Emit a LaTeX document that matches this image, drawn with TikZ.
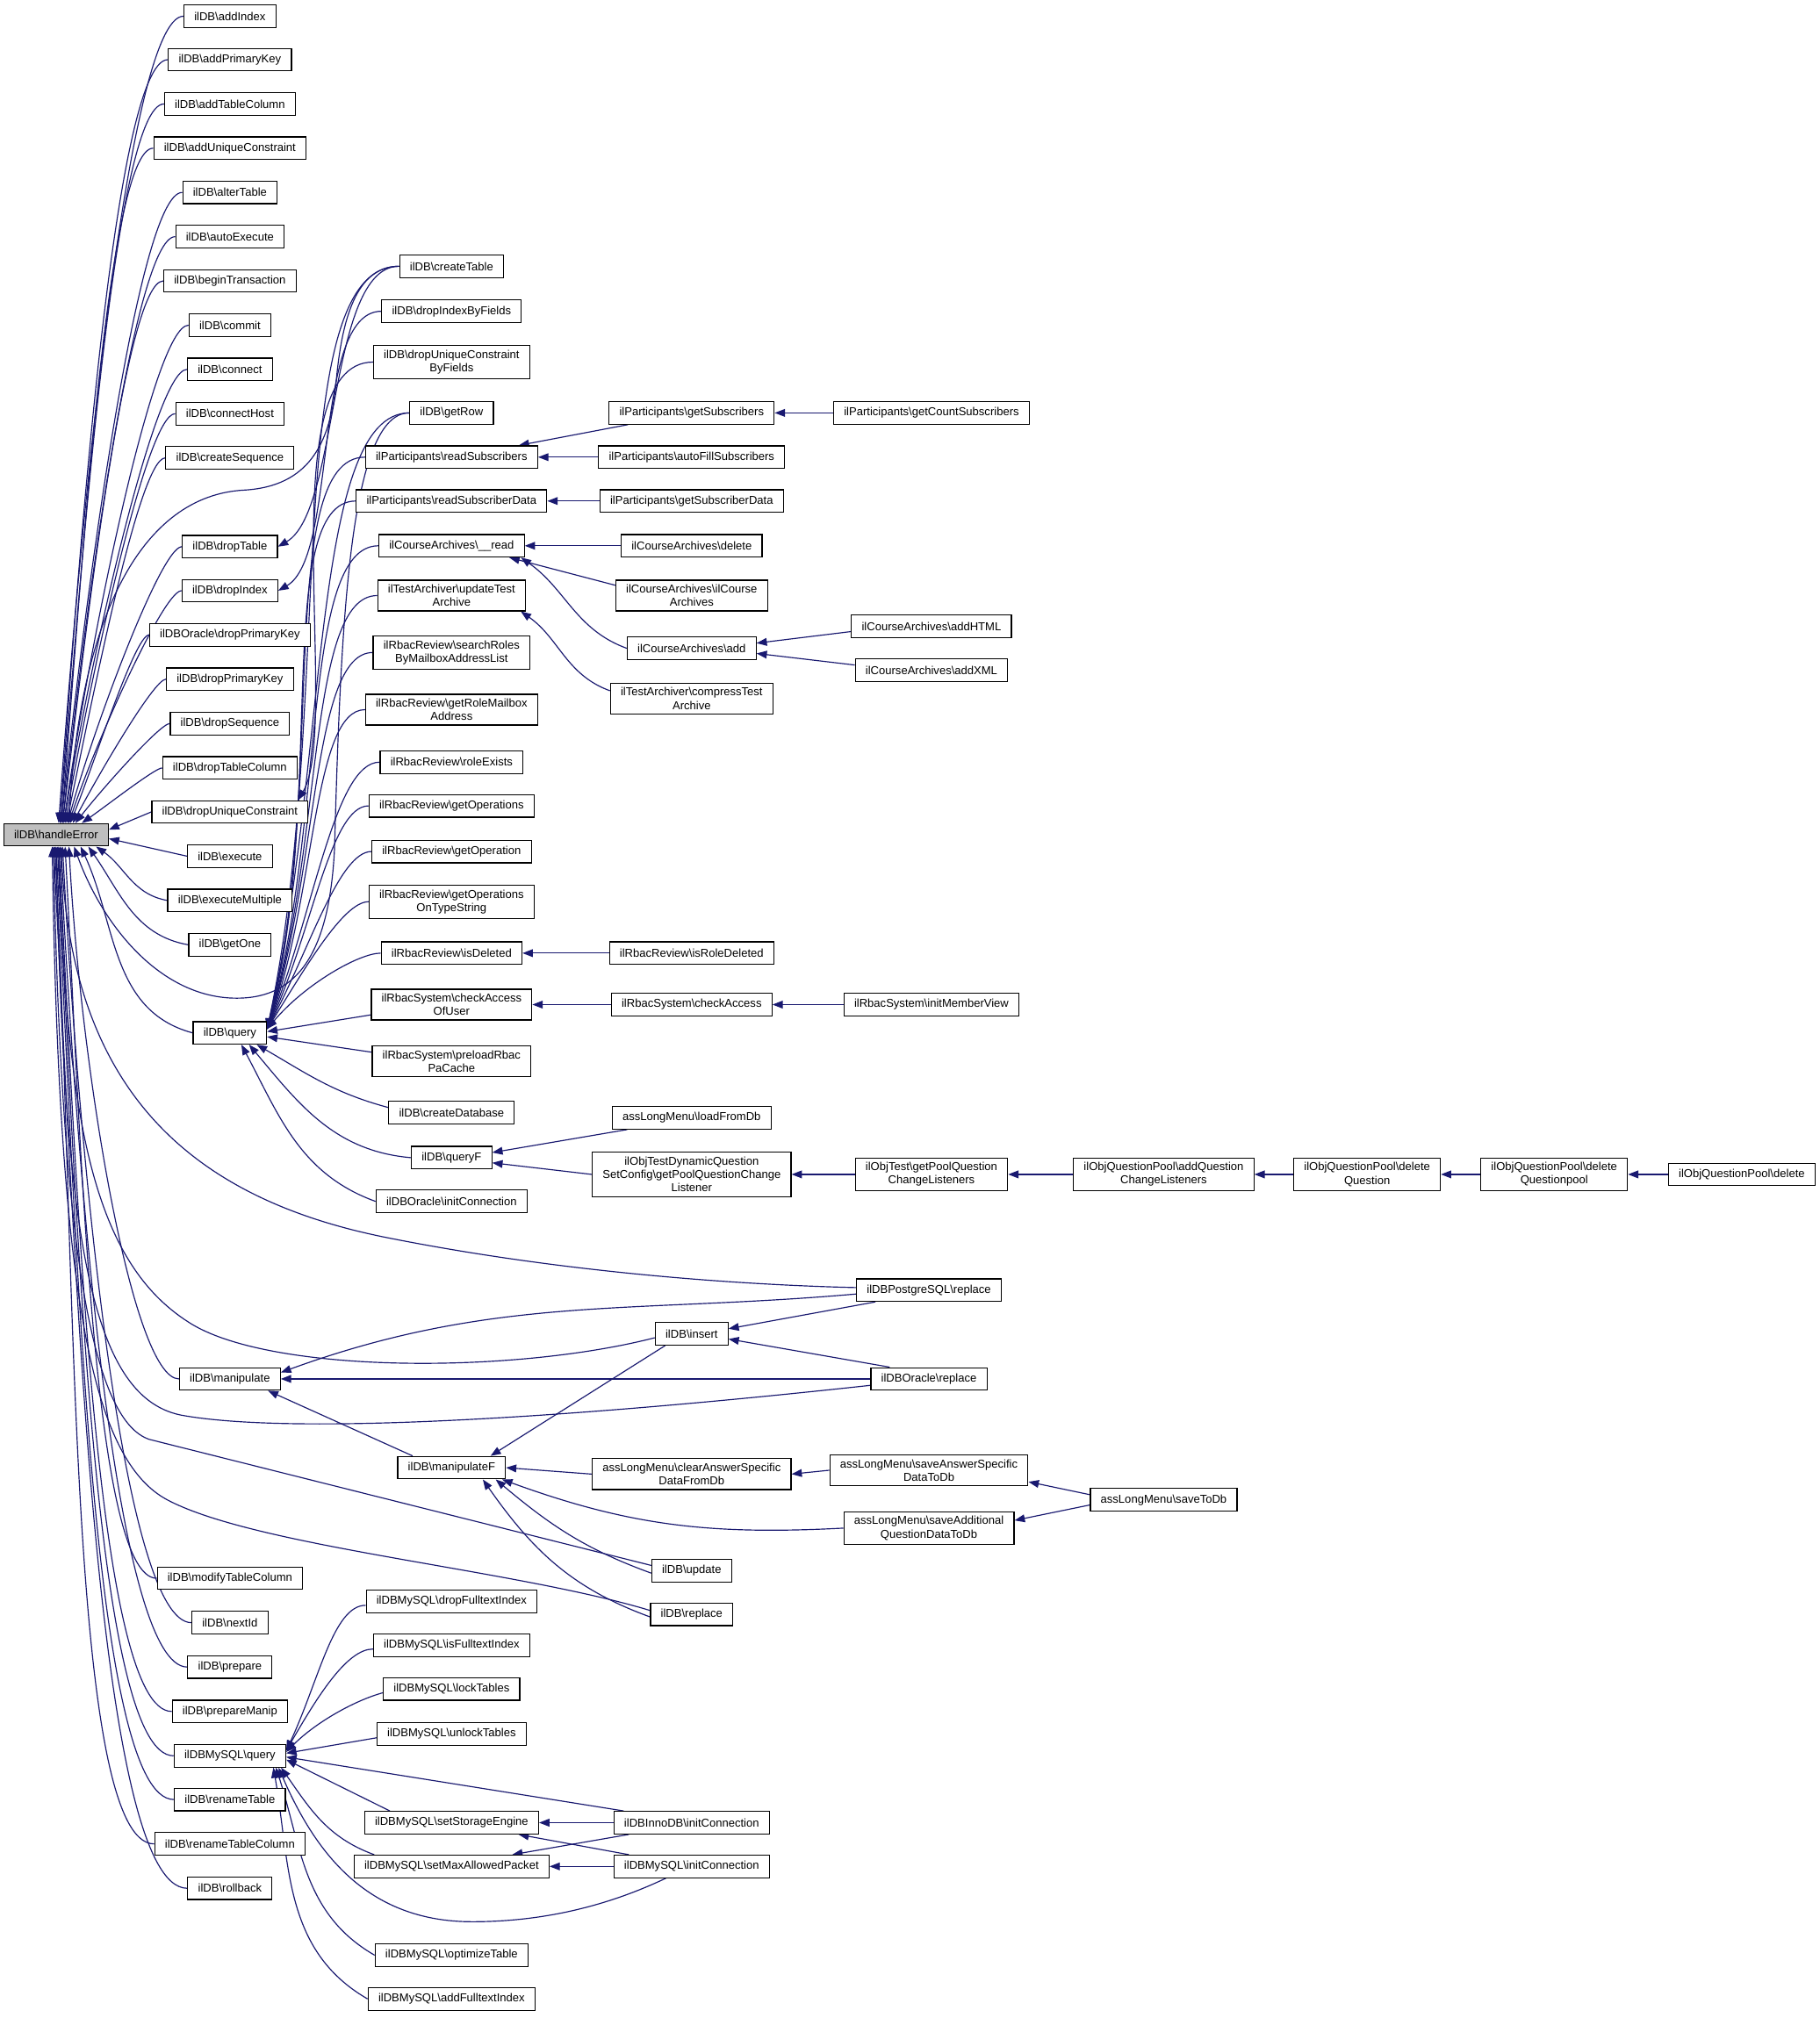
\documentclass[tikz,border=0pt]{standalone}
\usepackage{fontspec}
\setmainfont{Liberation Sans}
\usetikzlibrary{arrows.meta}
\definecolor{midnightblue}{RGB}{25,25,112}
\definecolor{nodegray}{RGB}{191,191,191}
\newcommand{\bsl}{\textbackslash}
\pgfdeclarelayer{bg}
\pgfsetlayers{bg,main}

\begin{document}
\begin{tikzpicture}[
    x=1pt, y=1pt,
    fn/.style={draw=black, line width=0.8pt, fill=white, inner xsep=8pt, inner ysep=3.5pt,
      minimum height=17.5pt, align=center, font=\fontsize{8.9}{10.4}\selectfont},
    call/.style={draw=midnightblue, line width=0.8pt, {Triangle[length=8pt,width=6pt]}-},
    every node/.style={fn},
]
    \node (hE) at (43.6,-649) [fill=nodegray] {ilDB\bsl handleError};

    \foreach \n/\y in {addIndex/12.6, addPrimaryKey/46.4, addTableColumn/80.8, addUniqueConstraint/115.2,
        alterTable/149.6, autoExecute/184, beginTransaction/218.4, commit/252.8, connect/287.2,
        connectHost/321.6, createSequence/356, dropTable/425, dropIndex/459.2, dropPrimaryKey/528,
        dropSequence/562.5, dropTableColumn/597, dropUniqueConstraint/631.2, execute/665.6,
        executeMultiple/700, getOne/734.5, query/803, manipulate/1072, modifyTableColumn/1227,
        nextId/1261.5, prepare/1296, prepareManip/1330.5, renameTable/1399, renameTableColumn/1433.5,
        rollback/1468}
      \node (\n) at (178.7,-\y) {ilDB\bsl\n};
    \node (oraDropPrimaryKey) at (178.7,-493.6) {ilDBOracle\bsl dropPrimaryKey};
    \node (myQuery) at (178.7,-1365) {ilDBMySQL\bsl query};

    \foreach \n/\y in {createTable/207, dropIndexByFields/242, getRow/321, createDatabase/865,
        queryF/900, manipulateF/1141}
      \node (\n) at (351,-\y) {ilDB\bsl\n};
    \node (dropUniqueByFields) at (351,-281.5) {ilDB\bsl dropUniqueConstraint\\ByFields};
    \node (readSubscribers) at (351,-355.4) {ilParticipants\bsl readSubscribers};
    \node (readSubscriberData) at (351,-389.5) {ilParticipants\bsl readSubscriberData};
    \node (courseRead) at (351,-424.3) {ilCourseArchives\bsl\_\_read};
    \node (updateTestArchive) at (351,-463) {ilTestArchiver\bsl updateTest\\Archive};
    \node (searchRoles) at (351,-507.3) {ilRbacReview\bsl searchRoles\\ByMailboxAddressList};
    \node (getRoleMailbox) at (351,-551.7) {ilRbacReview\bsl getRoleMailbox\\Address};
    \node (roleExists) at (351,-592.5) {ilRbacReview\bsl roleExists};
    \node (getOperations) at (351,-626.5) {ilRbacReview\bsl getOperations};
    \node (getOperation) at (351,-662) {ilRbacReview\bsl getOperation};
    \node (getOperationsOnType) at (351,-701) {ilRbacReview\bsl getOperations\\OnTypeString};
    \node (isDeleted) at (351,-741) {ilRbacReview\bsl isDeleted};
    \node (checkAccessOfUser) at (351,-781) {ilRbacSystem\bsl checkAccess\\OfUser};
    \node (preloadRbac) at (351,-825) {ilRbacSystem\bsl preloadRbac\\PaCache};
    \node (oraInitConnection) at (351,-934) {ilDBOracle\bsl initConnection};
    \foreach \n/\y in {dropFulltextIndex/1245, isFulltextIndex/1279, lockTables/1313, unlockTables/1348,
        setStorageEngine/1417, setMaxAllowedPacket/1451, optimizeTable/1520, addFulltextIndex/1554}
      \node (\n) at (351,-\y) {ilDBMySQL\bsl\n};

    \node (getSubscribers) at (537.6,-321) {ilParticipants\bsl getSubscribers};
    \node (autoFillSubscribers) at (537.6,-355.4) {ilParticipants\bsl autoFillSubscribers};
    \node (getSubscriberData) at (537.6,-389.5) {ilParticipants\bsl getSubscriberData};
    \node (courseDelete) at (537.6,-424.3) {ilCourseArchives\bsl delete};
    \node (courseArchives) at (537.6,-463) {ilCourseArchives\bsl ilCourse\\Archives};
    \node (courseAdd) at (537.6,-504) {ilCourseArchives\bsl add};
    \node (compressTestArchive) at (537.6,-543) {ilTestArchiver\bsl compressTest\\Archive};
    \node (isRoleDeleted) at (537.6,-741) {ilRbacReview\bsl isRoleDeleted};
    \node (checkAccess) at (537.6,-781) {ilRbacSystem\bsl checkAccess};
    \node (loadFromDb) at (537.6,-869) {assLongMenu\bsl loadFromDb};
    \node (dynListener) at (537.6,-913) {ilObjTestDynamicQuestion\\SetConfig\bsl getPoolQuestionChange\\Listener};
    \node (insert) at (537.6,-1037) {ilDB\bsl insert};
    \node (clearAnswer) at (537.6,-1146) {assLongMenu\bsl clearAnswerSpecific\\DataFromDb};
    \node (update) at (537.6,-1221) {ilDB\bsl update};
    \node (replace) at (537.6,-1255) {ilDB\bsl replace};
    \node (innoInit) at (537.6,-1417) {ilDBInnoDB\bsl initConnection};
    \node (myInit) at (537.6,-1451) {ilDBMySQL\bsl initConnection};

    \node (getCountSubscribers) at (724,-321) {ilParticipants\bsl getCountSubscribers};
    \node (addHTML) at (724,-487) {ilCourseArchives\bsl addHTML};
    \node (addXML) at (724,-521) {ilCourseArchives\bsl addXML};
    \node (initMemberView) at (724,-781) {ilRbacSystem\bsl initMemberView};
    \node (poolListeners) at (724,-913) {ilObjTest\bsl getPoolQuestion\\ChangeListeners};
    \node (pgReplace) at (722,-1003) {ilDBPostgreSQL\bsl replace};
    \node (oraReplace) at (722,-1072) {ilDBOracle\bsl replace};
    \node (saveAnswer) at (722,-1143) {assLongMenu\bsl saveAnswerSpecific\\DataToDb};
    \node (saveAdditional) at (722,-1188) {assLongMenu\bsl saveAdditional\\QuestionDataToDb};

    \node (addQuestionListeners) at (904.5,-913) {ilObjQuestionPool\bsl addQuestion\\ChangeListeners};
    \node (saveToDb) at (904.5,-1166) {assLongMenu\bsl saveToDb};
    \node (deleteQuestion) at (1062.6,-913) {ilObjQuestionPool\bsl delete\\Question};
    \node (deleteQuestionpool) at (1208,-913) {ilObjQuestionPool\bsl delete\\Questionpool};
    \node (poolDelete) at (1353.8,-913) {ilObjQuestionPool\bsl delete};

    \begin{pgfonlayer}{bg}
    \fill[white] (0,0) rectangle (1414,-1574.3);
    \useasboundingbox (0,0) rectangle (1414,-1574.3);

    \foreach \n/\dx/\a in {addIndex/2/86, addPrimaryKey/3/86, addTableColumn/3/85,
        addUniqueConstraint/4/85, alterTable/4/84, autoExecute/5/84, beginTransaction/5/83,
        commit/6/82, connect/6/81, connectHost/7/80, createSequence/8/78, dropTable/9/75,
        dropIndex/10/72, oraDropPrimaryKey/11/68, dropPrimaryKey/13/62, dropSequence/15/52,
        dropTableColumn/20/35}
      \draw[call] ([xshift=\dx pt]hE.north) to[out=\a,in=180,out looseness=0.8,in looseness=0.18] (\n.west);
    \draw[call] ([yshift=4pt]hE.east) -- (dropUniqueConstraint.west);
    \draw[call] ([yshift=-3pt]hE.east) -- (execute.west);
    \draw[call] ([xshift=-10pt]hE.south east) to[out=-35,in=170] (executeMultiple.west);
    \draw[call] ([xshift=-16pt]hE.south east) to[out=-55,in=170] (getOne.west);
    \draw[call] ([xshift=-22pt]hE.south east) to[out=-65,in=165] (query.west);
    \foreach \n/\dx in {manipulate/10, modifyTableColumn/7, nextId/5, prepare/3, prepareManip/2,
        myQuery/1, renameTable/0, renameTableColumn/-1, rollback/-2}
      \draw[call] ([xshift=\dx pt]hE.south) to[out=-87,in=180,out looseness=1.05,in looseness=0.22] (\n.west);

    \draw[call] ([xshift=10pt]hE.north) .. controls (62,-480) and (110,-385) .. (190,-381)
      .. controls (240,-378) and (256,-345) .. (261,-300) .. controls (266,-240) and (280,-207) .. (createTable.west);
    \draw[call] ([xshift=14pt]hE.south) .. controls (80,-720) and (125,-776) .. (184,-776)
      .. controls (232,-776) and (256,-740) .. (260,-660) .. controls (265,-480) and (272,-321) .. (getRow.west);
    \draw[call] ([xshift=4pt]hE.south) .. controls (55,-840) and (140,-930) .. (300,-962)
      .. controls (440,-990) and (580,-999) .. ([yshift=2pt]pgReplace.west);
    \draw[call] ([xshift=2pt]hE.south) .. controls (52,-880) and (75,-985) .. (150,-1030)
      .. controls (215,-1068) and (400,-1068) .. ([yshift=-3pt]insert.west);
    \draw[call] (hE.south) .. controls (50,-960) and (70,-1085) .. (140,-1100)
      .. controls (220,-1115) and (420,-1105) .. ([yshift=-5pt]oraReplace.west);
    \draw[call] ([xshift=-2pt]hE.south) .. controls (48,-990) and (75,-1105) .. (116,-1119) -- ([yshift=4pt]update.west);
    \draw[call] ([xshift=-3pt]hE.south) .. controls (46,-1010) and (72,-1135) .. (130,-1166)
      .. controls (200,-1203) and (400,-1220) .. ([yshift=3pt]replace.west);

    \draw[call] (dropTable.east) to[out=30,in=180,out looseness=0.6,in looseness=0.6] (createTable.west);
    \draw[call] (dropIndex.east) to[out=30,in=180,out looseness=0.6,in looseness=0.6] (dropIndexByFields.west);
    \draw[call] ([xshift=-8pt]dropUniqueConstraint.north east) to[out=60,in=180,out looseness=0.5,in looseness=0.6] (dropUniqueByFields.west);

    \foreach \n/\a in {createTable/78, getRow/77, readSubscribers/76, readSubscriberData/75, courseRead/74,
        updateTestArchive/73, searchRoles/72, getRoleMailbox/70, roleExists/68, getOperations/65,
        getOperation/62, getOperationsOnType/58, isDeleted/50}
      \draw[call] ([yshift=3pt]query.east) to[out=\a,in=180,out looseness=1.1,in looseness=0.4] (\n.west);
    \draw[call] ([yshift=1pt]query.east) -- ([yshift=-8pt]checkAccessOfUser.west);
    \draw[call] ([yshift=-3pt]query.east) -- ([yshift=7pt]preloadRbac.west);
    \draw[call] ([xshift=-8pt]query.south east) to[out=-30,in=165] ([yshift=4pt]createDatabase.west);
    \draw[call] ([xshift=-14pt]query.south east) to[out=-50,in=175] (queryF.west);
    \draw[call] ([xshift=-20pt]query.south east) to[out=-62,in=160] (oraInitConnection.west);

    \draw[call] ([xshift=-15pt]readSubscribers.north east) -- ([xshift=15pt]getSubscribers.south west);
    \draw[call] (readSubscribers.east) -- (autoFillSubscribers.west);
    \draw[call] (readSubscriberData.east) -- (getSubscriberData.west);
    \draw[call] (getSubscribers.east) -- (getCountSubscribers.west);
    \draw[call] (courseRead.east) -- (courseDelete.west);
    \draw[call] ([xshift=-12pt]courseRead.south east) -- ([yshift=8pt]courseArchives.west);
    \draw[call] ([xshift=-3pt]courseRead.south east) to[out=-35,in=160] (courseAdd.west);
    \draw[call] ([yshift=4pt]courseAdd.east) -- ([yshift=-4pt]addHTML.west);
    \draw[call] ([yshift=-4pt]courseAdd.east) -- ([yshift=4pt]addXML.west);
    \draw[call] ([xshift=-4pt]updateTestArchive.south east) to[out=-35,in=160] ([yshift=6pt]compressTestArchive.west);
    \draw[call] (isDeleted.east) -- (isRoleDeleted.west);
    \draw[call] (checkAccessOfUser.east) -- (checkAccess.west);
    \draw[call] (checkAccess.east) -- (initMemberView.west);

    \draw[call] ([yshift=4pt]queryF.east) -- ([xshift=12pt]loadFromDb.south west);
    \draw[call] ([yshift=-4pt]queryF.east) -- (dynListener.west);
    \draw[call] (dynListener.east) -- (poolListeners.west);
    \draw[call] (poolListeners.east) -- (addQuestionListeners.west);
    \draw[call] (addQuestionListeners.east) -- (deleteQuestion.west);
    \draw[call] (deleteQuestion.east) -- (deleteQuestionpool.west);
    \draw[call] (deleteQuestionpool.east) -- (poolDelete.west);

    \draw[call] ([yshift=5pt]manipulate.east) to[out=20,in=185] ([yshift=-3pt]pgReplace.west);
    \draw[call] (manipulate.east) -- (oraReplace.west);
    \draw[call] ([xshift=-10pt]manipulate.south east) -- ([xshift=12pt]manipulateF.north west);
    \draw[call] ([yshift=4pt]insert.east) -- ([xshift=15pt]pgReplace.south west);
    \draw[call] ([yshift=-4pt]insert.east) -- ([xshift=15pt]oraReplace.north west);
    \draw[call] ([xshift=-12pt]manipulateF.north east) -- ([xshift=8pt]insert.south west);
    \draw[call] (manipulateF.east) -- (clearAnswer.west);
    \draw[call] ([xshift=-3pt]manipulateF.south east) to[out=-20,in=183] (saveAdditional.west);
    \draw[call] ([xshift=-8pt]manipulateF.south east) to[out=-40,in=160] ([yshift=-2pt]update.west);
    \draw[call] ([xshift=-18pt]manipulateF.south east) to[out=-55,in=160] ([yshift=-2pt]replace.west);
    \draw[call] (clearAnswer.east) -- (saveAnswer.west);
    \draw[call] ([yshift=-9pt]saveAnswer.east) -- ([yshift=4pt]saveToDb.west);
    \draw[call] ([yshift=6pt]saveAdditional.east) -- ([yshift=-4pt]saveToDb.west);

    \draw[call] ([yshift=4pt]myQuery.east) to[out=65,in=180,out looseness=1.2,in looseness=0.5] ([yshift=-3pt]dropFulltextIndex.west);
    \draw[call] ([yshift=4pt]myQuery.east) to[out=60,in=180,out looseness=1.2,in looseness=0.5] ([yshift=-3pt]isFulltextIndex.west);
    \draw[call] ([yshift=3pt]myQuery.east) to[out=45,in=195,out looseness=1,in looseness=0.6] ([yshift=-3pt]lockTables.west);
    \draw[call] ([yshift=2pt]myQuery.east) -- ([yshift=-3pt]unlockTables.west);
    \draw[call] ([yshift=-1pt]myQuery.east) -- ([xshift=8pt]innoInit.north west);
    \draw[call] ([yshift=-3pt]myQuery.east) -- ([xshift=20pt]setStorageEngine.north west);
    \draw[call] ([xshift=-4pt]myQuery.south east) to[out=-55,in=160] ([xshift=16pt]setMaxAllowedPacket.north west);
    \draw[call] ([xshift=-6pt]myQuery.south east) .. controls (245,-1440) and (285,-1494) .. (367,-1494)
      .. controls (430,-1494) and (480,-1478) .. ([xshift=-20pt]myInit.south);
    \draw[call] ([xshift=-8pt]myQuery.south east) to[out=-72,in=150] (optimizeTable.west);
    \draw[call] ([xshift=-10pt]myQuery.south east) to[out=-80,in=150] (addFulltextIndex.west);
    \draw[call] (setStorageEngine.east) -- (innoInit.west);
    \draw[call] ([xshift=-16pt]setStorageEngine.south east) -- ([xshift=12pt]myInit.north west);
    \draw[call] ([xshift=-29pt]setMaxAllowedPacket.north east) -- ([xshift=12pt]innoInit.south west);
    \draw[call] (setMaxAllowedPacket.east) -- (myInit.west);
    \end{pgfonlayer}
\end{tikzpicture}
\end{document}
